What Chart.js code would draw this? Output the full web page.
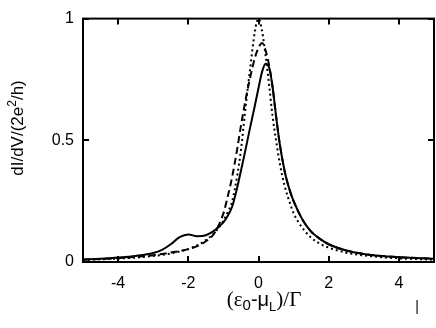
<!DOCTYPE html>
<html>
<head>
<meta charset="utf-8">
<script src="https://cdn.jsdelivr.net/npm/chart.js@4/dist/chart.umd.min.js"></script>
<style>
html,body{margin:0;padding:0;background:#fff;}
#c{display:block;}
</style>
</head>
<body>
<canvas id="c" width="436" height="328"></canvas>
<script>
const xValues = [-5,-4.5,-4,-3.5,-3,-2.75,-2.5,-2.25,-2,-1.75,-1.5,-1.25,-1,-0.875,-0.75,-0.6,-0.5,-0.35,-0.25,-0.1,0,0.1,0.2,0.3,0.4,0.5,0.6,0.75,0.9,1,1.25,1.5,1.75,2,2.5,3,3.5,4,4.5,5];
const solidValues = [0.01,0.013,0.018,0.025,0.037,0.05,0.073,0.102,0.113,0.106,0.11,0.13,0.163,0.19,0.228,0.31,0.375,0.475,0.545,0.645,0.715,0.78,0.815,0.8,0.72,0.6,0.49,0.37,0.29,0.25,0.175,0.125,0.095,0.073,0.047,0.033,0.025,0.02,0.016,0.013];
const dashedValues = [0.01,0.012,0.016,0.021,0.028,0.033,0.039,0.045,0.053,0.065,0.085,0.12,0.2,0.27,0.35,0.47,0.56,0.68,0.75,0.84,0.88,0.9,0.87,0.81,0.72,0.6,0.49,0.37,0.29,0.25,0.175,0.125,0.095,0.073,0.047,0.033,0.025,0.02,0.016,0.013];
const dottedValues = [0.009,0.011,0.014,0.018,0.025,0.029,0.035,0.043,0.053,0.068,0.09,0.12,0.17,0.205,0.25,0.36,0.46,0.66,0.78,0.95,1.0,0.95,0.85,0.73,0.6,0.5,0.41,0.31,0.24,0.2,0.14,0.1,0.075,0.059,0.038,0.027,0.02,0.015,0.012,0.01];
const xTicks = [-4,-2,0,2,4];
const yTicks = [0,0.5,1];
const yTickLabels = ["0","0.5","1"];

function pts(arr){ return xValues.map((x,i)=>({x:x,y:arr[i]})); }

const framePlugin = {
  id:'frame',
  afterDatasetsDraw(chart){
    const ctx = chart.ctx, a = chart.chartArea;
    const xs = chart.scales.x, ys = chart.scales.y;
    ctx.save();
    ctx.strokeStyle = '#000';
    ctx.lineWidth = 2;
    ctx.strokeRect(a.left, a.top, a.right - a.left, a.bottom - a.top);
    const tl = 6;
    ctx.beginPath();
    xTicks.forEach(v=>{
      const px = Math.round(xs.getPixelForValue(v));
      ctx.moveTo(px, a.bottom); ctx.lineTo(px, a.bottom - tl);
      ctx.moveTo(px, a.top); ctx.lineTo(px, a.top + tl);
    });
    yTicks.forEach(v=>{
      const py = Math.round(ys.getPixelForValue(v));
      ctx.moveTo(a.left, py); ctx.lineTo(a.left + tl, py);
      ctx.moveTo(a.right, py); ctx.lineTo(a.right - tl, py);
    });
    ctx.stroke();

    // x title with subscripts
    const parts = [
      {t:'(', f:'21px "Liberation Serif"', dy:0},
      {t:'ε', f:'21px "Liberation Serif"', dy:0},
      {t:'0', f:'15px "Liberation Sans"', dy:4},
      {t:'-', f:'20px "Liberation Sans"', dy:0},
      {t:'μ', f:'20px "Liberation Sans"', dy:0},
      {t:'L', f:'13px "Liberation Sans"', dy:5},
      {t:')/Γ', f:'21px "Liberation Serif"', dy:0}
    ];
    let w = 0;
    parts.forEach(p=>{ ctx.font = p.f; p.w = ctx.measureText(p.t).width; w += p.w; });
    let x = 264 - w/2;
    const base = 306;
    ctx.fillStyle = '#000';
    ctx.textBaseline = 'alphabetic';
    ctx.textAlign = 'left';
    parts.forEach(p=>{ ctx.font = p.f; ctx.fillText(p.t, x, base + p.dy); x += p.w; });

    // y title rotated with superscript
    ctx.save();
    ctx.translate(23, 128);
    ctx.rotate(-Math.PI/2);
    const yp = [
      {t:'dI/dV/(2e', f:'17px "Liberation Sans"', dy:0},
      {t:'2', f:'12px "Liberation Sans"', dy:-7},
      {t:'/h)', f:'17px "Liberation Sans"', dy:0}
    ];
    let yw = 0;
    yp.forEach(p=>{ ctx.font = p.f; p.w = ctx.measureText(p.t).width; yw += p.w; });
    let yx = -yw/2;
    yp.forEach(p=>{ ctx.font = p.f; ctx.fillText(p.t, yx, p.dy); yx += p.w; });
    ctx.restore();

    // small mark at bottom right
    ctx.font = '14px "Liberation Sans"';
    ctx.textAlign = 'center';
    ctx.fillText('|', 417, 311);
    ctx.restore();
  }
};

new Chart(document.getElementById('c'), {
  type:'scatter',
  data:{
    datasets:[
      {label:'solid', data:pts(solidValues), showLine:true, borderColor:'#000', borderWidth:2, pointRadius:0, cubicInterpolationMode:'monotone'},
      {label:'dashed', data:pts(dashedValues), showLine:true, borderColor:'#000', borderWidth:2, borderDash:[7,4], pointRadius:0, cubicInterpolationMode:'monotone'},
      {label:'dotted', data:pts(dottedValues), showLine:true, borderColor:'#000', borderWidth:2, borderDash:[2,3], pointRadius:0, cubicInterpolationMode:'monotone'}
    ]
  },
  options:{
    responsive:false,
    animation:false,
    devicePixelRatio:1,
    layout:{padding:{top:8,right:2,left:0,bottom:0}},
    plugins:{legend:{display:false}, tooltip:{enabled:false}},
    scales:{
      x:{
        type:'linear', min:-5, max:5,
        grid:{display:false, drawTicks:false},
        border:{display:false},
        afterBuildTicks(s){ s.ticks = xTicks.map(v=>({value:v})); },
        afterFit(s){ s.height = 66; },
        ticks:{color:'#000', font:{family:'"Liberation Sans"', size:16}, padding:12, maxRotation:0, callback:(v)=>String(v)}
      },
      y:{
        type:'linear', min:0, max:1,
        grid:{display:false, drawTicks:false},
        border:{display:false},
        afterBuildTicks(s){ s.ticks = yTicks.map(v=>({value:v})); },
        afterFit(s){ s.width = 83; },
        ticks:{color:'#000', font:{family:'"Liberation Sans"', size:16}, padding:9, callback:(v)=>yTickLabels[yTicks.indexOf(v)]}
      }
    }
  },
  plugins:[framePlugin]
});
</script>
</body>
</html>
